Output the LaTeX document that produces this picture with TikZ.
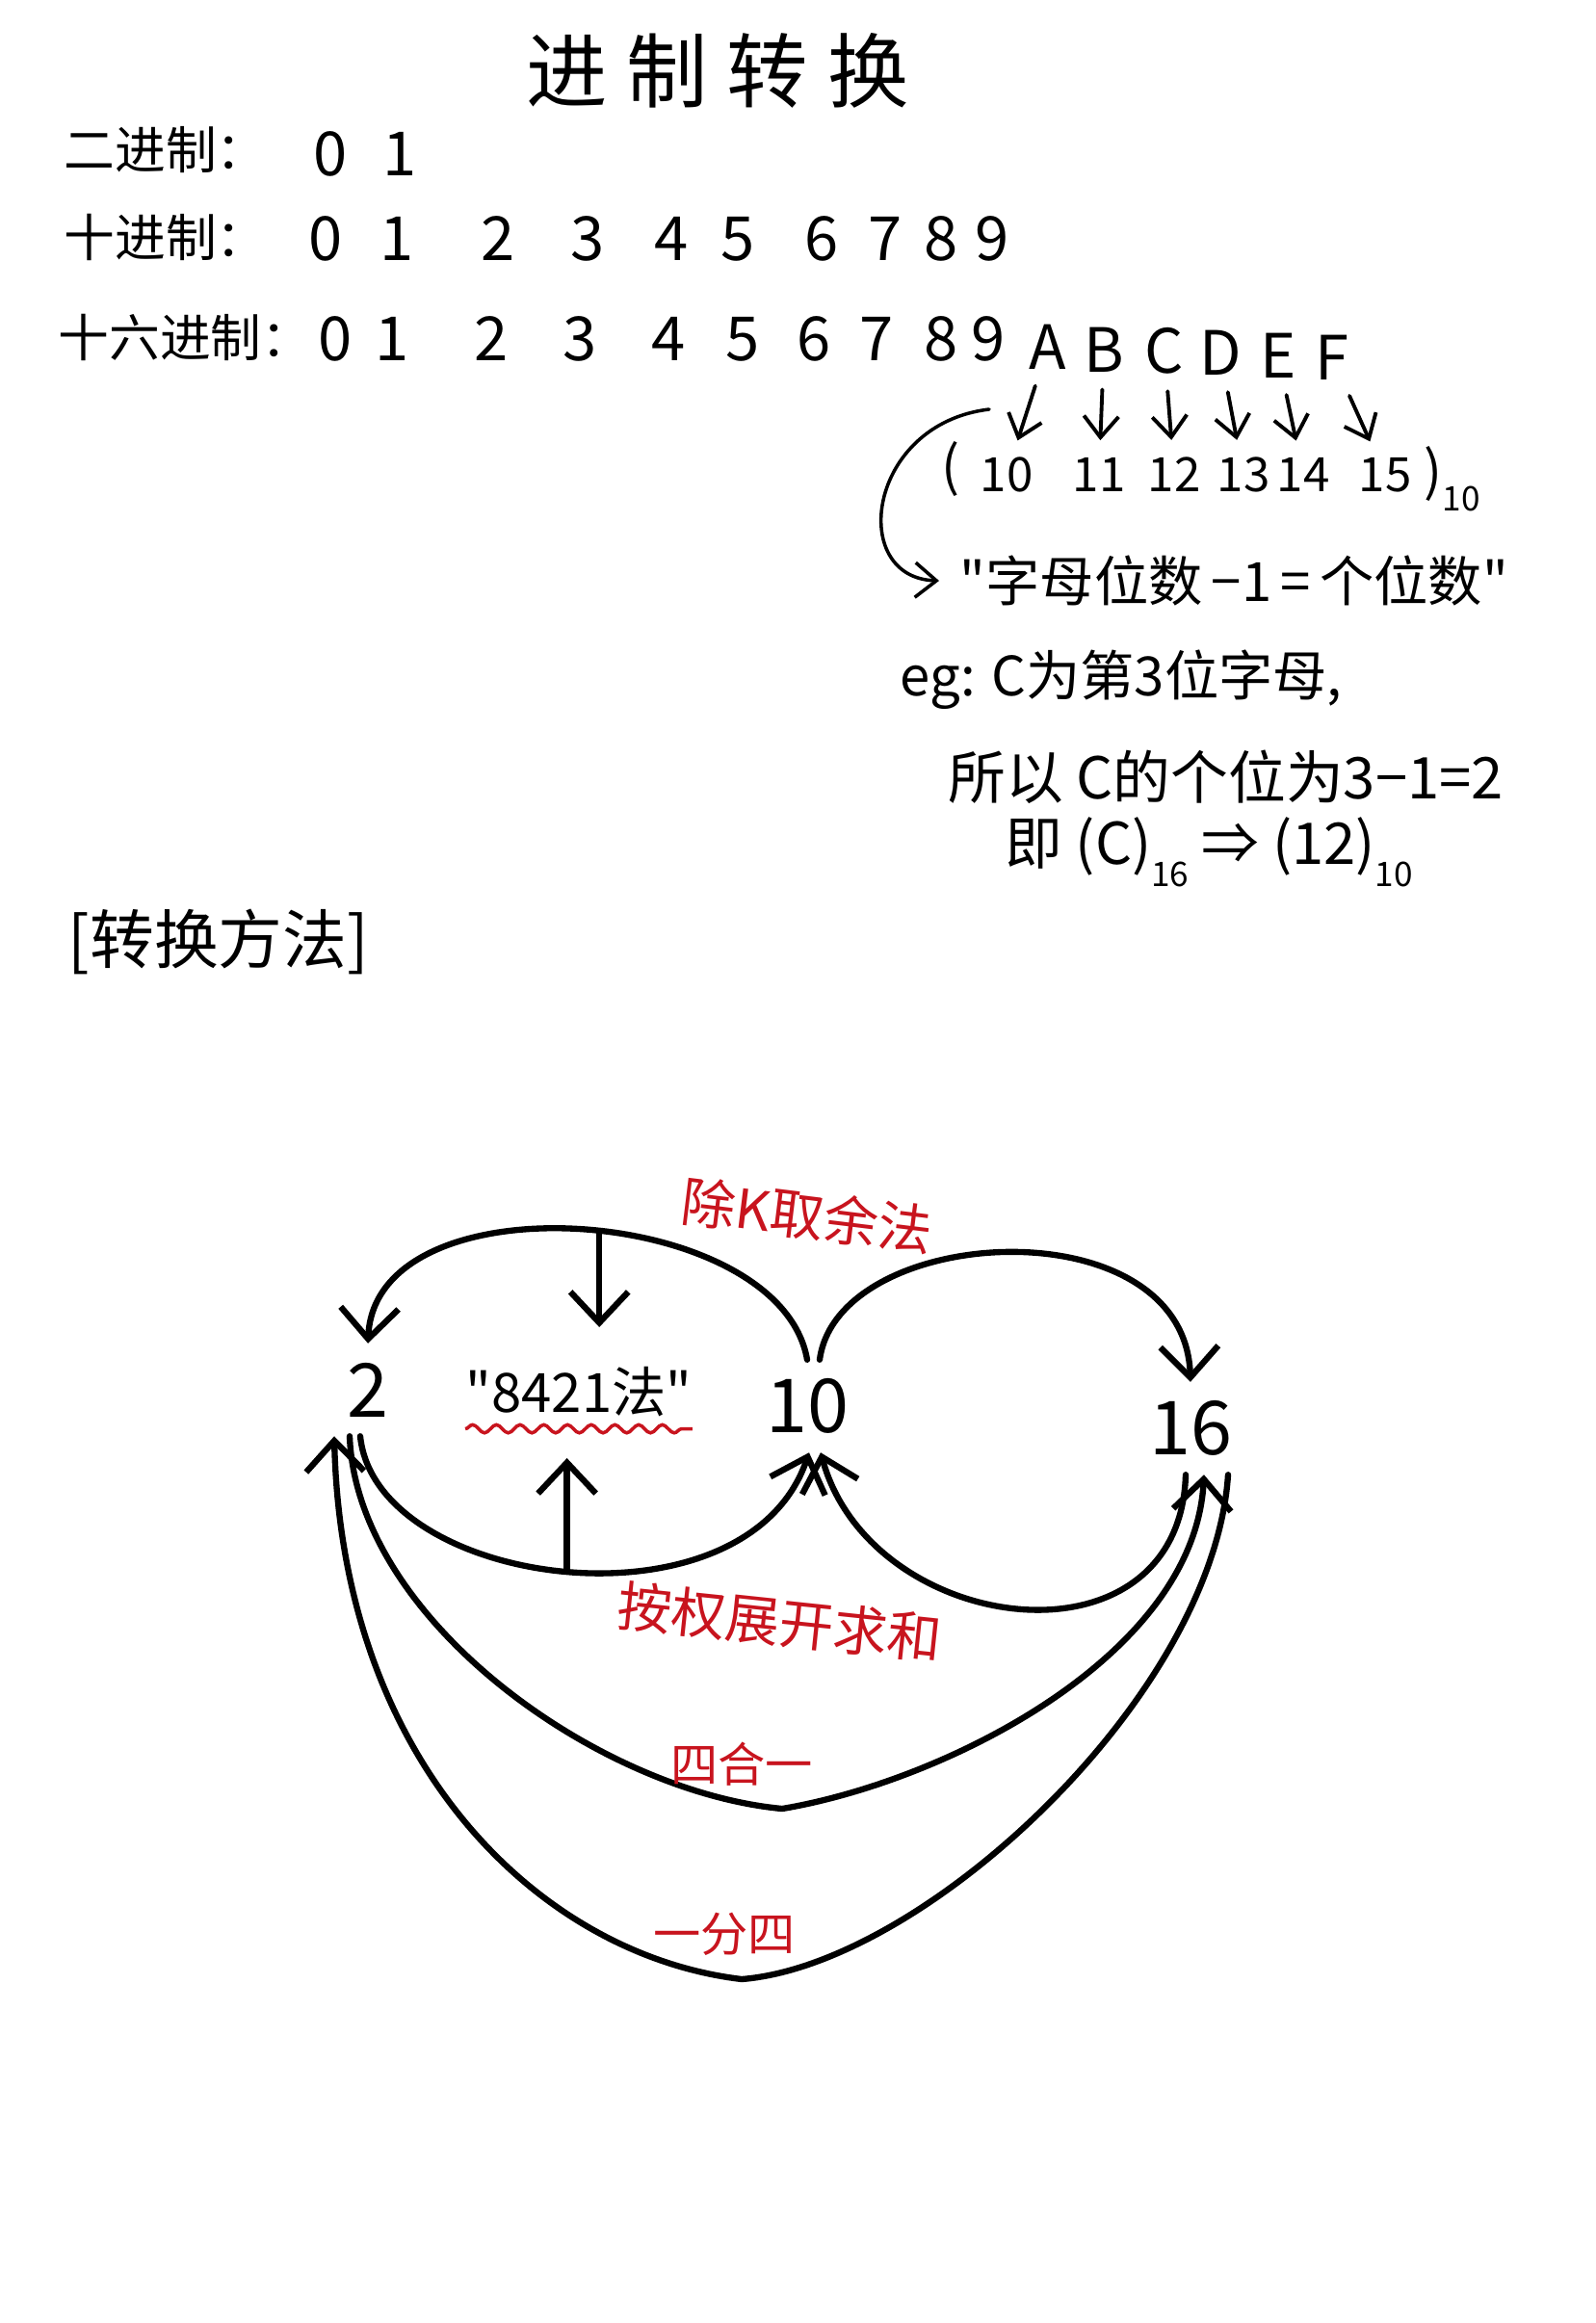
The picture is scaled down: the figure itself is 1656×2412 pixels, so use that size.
\documentclass[tikz,border=0pt]{standalone}
\usepackage{fontspec}
\newfontfamily\cjk{Noto Sans CJK SC}
\usetikzlibrary{arrows.meta,calc,decorations.pathmorphing}
\definecolor{penred}{RGB}{200,20,30}
\newcommand{\lowidx}[1]{\raisebox{-0.7ex}{\fontsize{10}{10}\selectfont #1}}

\begin{document}
\begin{tikzpicture}[x=0.01cm, y=0.01cm,
    txt/.style={font=\cjk\fontsize{#1}{#1}\selectfont},
    remark/.style={penred, font=\cjk\fontsize{#1}{#1}\selectfont},
    base/.style={font=\cjk\fontsize{22}{22}\selectfont, minimum width=0.8cm, minimum height=0.95cm},
    curve/.style={line width=1.8pt, line cap=round},
    head/.style={-{Straight Barb[length=3.2mm,width=6mm]}},
    small/.style={line width=1.1pt, line cap=round, -{Straight Barb[length=2.2mm,width=3.6mm]}}]
\tikzstyle{every node}+=[inner sep=0pt]
\useasboundingbox (0,0) rectangle (1656,-2412);
% title and the three digit rows
\node[txt=24] (title) at (745,-73) {进\hspace{0.2cm}制\hspace{0.2cm}转\hspace{0.2cm}换};
\node[txt=15, anchor=west] (binlab) at (66,-156) {二进制：};
\node[txt=15, anchor=west] (declab) at (66,-246) {十进制：};
\node[txt=15, anchor=west] (hexlab) at (60,-350) {十六进制：};
\foreach \d/\x in {0/343,1/415}
  \node[txt=18] (bin\d) at (\x,-160) {\d};
\foreach \d/\x in {0/338,1/412,2/517,3/610,4/697,5/766,6/853,7/919,8/977,9/1030}
  \node[txt=18] (dec\d) at (\x,-248) {\d};
\foreach \d/\x in {0/348,1/407,2/510,3/602,4/694,5/771,6/845,7/910,8/977,9/1026}
  \node[txt=18] (hex\d) at (\x,-352) {\d};
\foreach \d/\x/\y in {A/1088/360,B/1146/363,C/1209/364,D/1267/366,E/1327/369,F/1383/371}
  \node[txt=18] (hex\d) at (\x,-\y) {\d};
% letters in decimal
\node[txt=16] (lpar) at (987,-487) {(};
\foreach \d/\v/\x in {A/10/1045,B/11/1141,C/12/1219,D/13/1291,E/14/1353,F/15/1438}
  \node[txt=14] (val\d) at (\x,-493) {\v};
\node[txt=16, anchor=west] (rpar) at (1478,-497) {)\lowidx{10}};
\foreach \d in {A,B,C,D,E,F}
  \draw[small, shorten <=5pt, shorten >=5pt] (hex\d) -- (val\d);
% rule and example
\node[txt=16, anchor=west, inner xsep=6pt] (rule) at (975,-603) {"字母位数\,−1\,=\,个位数"};
\coordinate (hook) at (1027,-425);
\draw[small, line width=1pt] (hook) .. controls (900,-440) and (880,-600) .. (rule.west);
\node[txt=16, anchor=west] (example) at (934,-706) {eg: C为第3位字母,};
\node[txt=17, anchor=west] (sothen) at (984,-807) {所以 C的个位为3−1=2};
\node[txt=17, anchor=west] (hence) at (1043,-885) {即 (C)\lowidx{16} ⇒ (12)\lowidx{10}};
\node[txt=19, anchor=west] (methods) at (70,-978) {[转换方法]};
% the three bases
\node[base] (two) at (382,-1443) {2};
\node[base] (ten) at (838,-1460) {10};
\node[base] (sixteen) at (1236,-1483) {16};
\node[txt=16] (eight) at (601,-1445) {"8421法"};
\draw[penred, line width=1pt, decorate, decoration={snake, amplitude=1.2pt, segment length=7pt}]
  ($(eight.south west)+(0,-12)$) -- ($(eight.south east)+(0,-12)$);
% 10 -> 2 and 2 -> 10
\draw[curve, head] (ten.north) .. controls (810,-1250) and (390,-1220) .. (two.north)
  coordinate[pos=0.47] (arcTop);
\coordinate (tipA) at (arcTop |- 0,-1378);
\draw[curve, head] (arcTop) -- (tipA);
\draw[curve, head] ($(two.south)+(-8,0)$) .. controls (390,-1650) and (775,-1700) .. ($(ten.south)+(2,0)$)
  coordinate[pos=0.5] (arcLow);
\coordinate (tipB) at (arcLow |- 0,-1514);
\draw[curve, head] (arcLow) -- (tipB);
% 10 -> 16 and 16 -> 10
\draw[curve, head] ($(ten.north)+(13,0)$) .. controls (870,-1270) and (1230,-1250) .. (sixteen.north);
\draw[curve, head] ($(sixteen.south)+(-5,0)$) .. controls (1225,-1740) and (905,-1700) .. ($(ten.south)+(14,0)$);
% 2 -> 16 and 16 -> 2
\coordinate (mergeLow) at (812,-1878);
\draw[curve, head] ($(two.south)+(-19,0)$) .. controls (370,-1680) and (620,-1860) .. (mergeLow)
  .. controls (980,-1850) and (1240,-1720) .. ($(sixteen.south)+(14,0)$);
\coordinate (splitLow) at (770,-2055);
\draw[curve, head] ($(sixteen.south)+(39,0)$) .. controls (1260,-1760) and (960,-2040) .. (splitLow)
  .. controls (560,-2030) and (355,-1830) .. ($(two.south)+(-35,0)$);
% red labels
\node[remark=16, rotate=-7] (divlab) at (838,-1262) {除K取余法};
\node[remark=16, rotate=-6] (expandlab) at (810,-1684) {按权展开求和};
\node[remark=14] (mergelab) at (770,-1832) {四合一};
\node[remark=14] (splitlab) at (752,-2008) {一分四};
\end{tikzpicture}
\end{document}
